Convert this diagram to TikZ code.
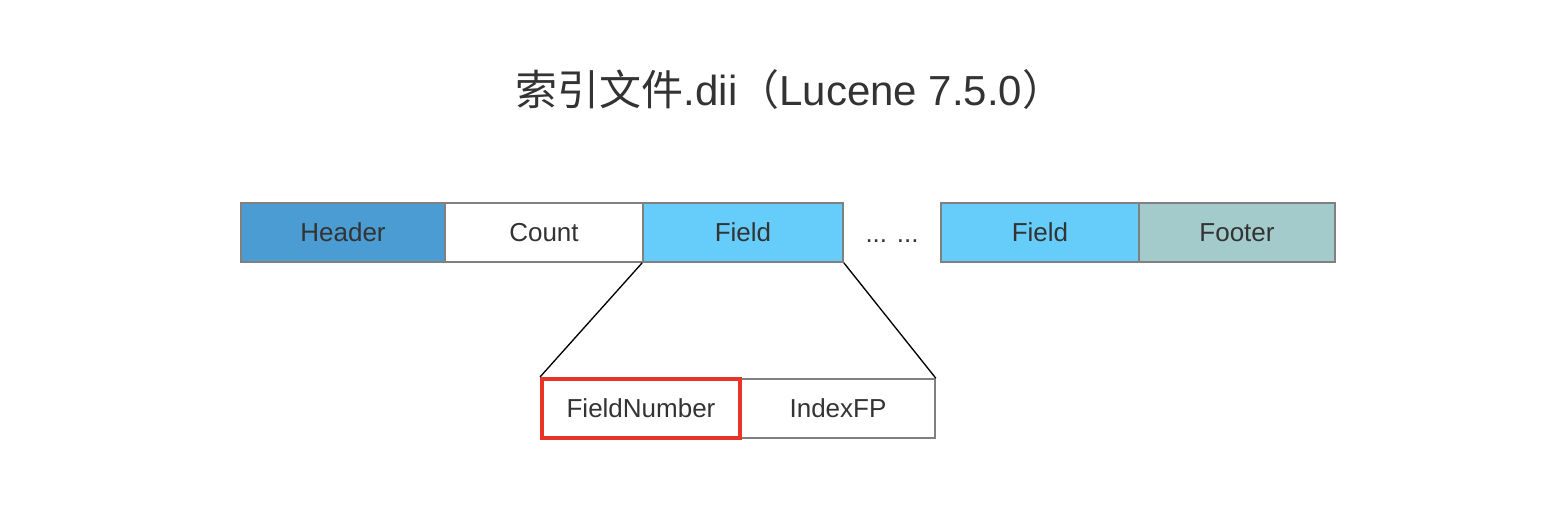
\documentclass[tikz,border=0pt]{standalone}
\usepackage{fontspec}
\setmainfont{Liberation Sans}
\newfontfamily\cjk{Noto Sans CJK SC}
\usepackage{tikz}

\definecolor{hdrblue}{RGB}{74,156,211}
\definecolor{fldblue}{RGB}{102,204,250}
\definecolor{ftrgreen}{RGB}{163,203,203}
\definecolor{boxgray}{RGB}{128,128,128}
\definecolor{txtgray}{RGB}{51,51,51}
\definecolor{markred}{RGB}{232,53,42}

\tikzset{
  cell/.style={draw=boxgray, line width=1.2pt, minimum height=44.25pt, inner sep=0pt, text=txtgray, font=\fontsize{19.5}{23}\selectfont},
  marked/.style={draw=markred, line width=3pt}
}

\begin{document}
\begin{tikzpicture}[x=0.75pt,y=0.75pt,yscale=-1,xscale=1]
\useasboundingbox (0,0) rectangle (1550,526);

% Title
\node (title) at (790,90) [text=txtgray, font=\fontsize{31.5}{36}\selectfont] {{\cjk 索引文件}.dii{\cjk （}Lucene 7.5.0{\cjk ）}};

% Top row
\node (header) at (343,232.5) [cell, fill=hdrblue, minimum width=153pt] {Header};
\node (count) at (544,232.5) [cell, fill=white, minimum width=148.5pt] {Count};
\node (field) at (743,232.5) [cell, fill=fldblue, minimum width=150pt] {Field};
\node (dots) at (892,242) [anchor=base, text=txtgray, font=\fontsize{19.5}{23}\selectfont] {... ...};
\node (fieldb) at (1040,232.5) [cell, fill=fldblue, minimum width=148.5pt] {Field};
\node (footer) at (1237,232.5) [cell, fill=ftrgreen, minimum width=147pt] {Footer};

% Bottom row
\node (indexfp) at (838,408.5) [cell, fill=white, minimum width=145.5pt] {IndexFP};
\node (fieldnum) at (641,408.5) [cell, marked, fill=white, minimum width=148.5pt] {FieldNumber};

% Zoom lines
\draw [line width=1pt] (field.south west) -- (fieldnum.north west);
\draw [line width=1pt] (field.south east) -- (indexfp.north east);

\end{tikzpicture}
\end{document}
